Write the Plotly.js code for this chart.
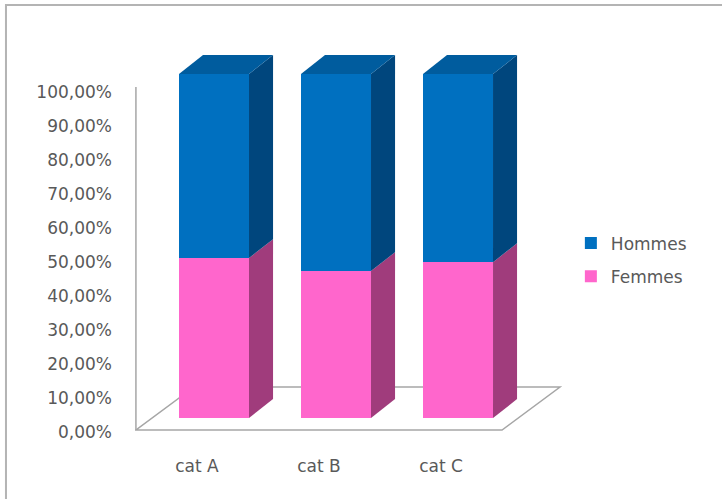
<!DOCTYPE html>
<html>
<head>
<meta charset="utf-8">
<script src="https://cdn.plot.ly/plotly-3.0.1.min.js"></script>
<style>html,body{margin:0;padding:0;background:#fff;}#chart{width:722px;height:499px;}</style>
</head>
<body>
<div id="chart"></div>
<script>
// Data
var categories = ['cat A', 'cat B', 'cat C'];
var femmes = [0.465, 0.427, 0.453];
var hommes = [0.535, 0.573, 0.547];
var yTicks = [0, 0.1, 0.2, 0.3, 0.4, 0.5, 0.6, 0.7, 0.8, 0.9, 1.0];

// Styles
var FONT = 'DejaVu Sans';
var TXT = '#595959';
var BLUE = '#0070C0', BLUE_SIDE = '#00467D', BLUE_TOP = '#005C9E';
var PINK = '#FF66CC', PINK_SIDE = '#A03C7C';
var BAR_W = 0.574, DX = 0.197, DY = 0.055;

var traces = [
  {type: 'bar', name: 'Femmes', x: categories, y: femmes, width: BAR_W,
   marker: {color: PINK, line: {width: 0}}, legendgroup: 'f', legendrank: 2, hoverinfo: 'skip'},
  {type: 'bar', name: 'Hommes', x: categories, y: hommes, width: BAR_W,
   marker: {color: BLUE, line: {width: 0}}, legendgroup: 'h', legendrank: 1, hoverinfo: 'skip'},
  // carrier so the percentage axis is drawn (no visible marks)
  {type: 'scatter', mode: 'none', x: categories, y: femmes, yaxis: 'y2', showlegend: false, hoverinfo: 'skip'}
];

var shapes = [];
// floor
var fy0 = -0.0349, fy1 = 0.0901, fxl = -0.639, fxr = 2.361, fdx = 0.475;
shapes.push({type: 'path', xref: 'x', yref: 'y', layer: 'below',
  path: 'M' + fxl + ',' + fy0 + ' L' + fxr + ',' + fy0 + ' L' + (fxr + fdx) + ',' + fy1 + ' L' + (fxl + fdx) + ',' + fy1 + ' Z',
  line: {color: '#A6A6A6', width: 1.5}, fillcolor: 'rgba(0,0,0,0)'});
// back wall vertical line
shapes.push({type: 'line', xref: 'x', yref: 'y', x0: -0.64, x1: -0.64, y0: fy0, y1: 0.962,
  line: {color: '#A6A6A6', width: 1.5}, layer: 'below'});

// side and top faces from data
categories.forEach(function (c, i) {
  var xr = i + BAR_W / 2, xl = i - BAR_W / 2;
  var f = femmes[i], t = femmes[i] + hommes[i];
  shapes.push({type: 'path', xref: 'x', yref: 'y', line: {width: 0}, fillcolor: PINK_SIDE,
    path: 'M' + xr + ',0 L' + (xr + DX) + ',' + DY + ' L' + (xr + DX) + ',' + (f + DY) + ' L' + xr + ',' + f + ' Z'});
  shapes.push({type: 'path', xref: 'x', yref: 'y', line: {width: 0}, fillcolor: BLUE_SIDE,
    path: 'M' + xr + ',' + f + ' L' + (xr + DX) + ',' + (f + DY) + ' L' + (xr + DX) + ',' + (t + DY) + ' L' + xr + ',' + t + ' Z'});
  shapes.push({type: 'path', xref: 'x', yref: 'y', line: {width: 0}, fillcolor: BLUE_TOP,
    path: 'M' + xl + ',' + t + ' L' + xr + ',' + t + ' L' + (xr + DX) + ',' + (t + DY) + ' L' + (xl + DX) + ',' + (t + DY) + ' Z'});
});

// outer frame (top and left)
shapes.push({type: 'path', xref: 'paper', yref: 'paper',
  path: 'M-0.2966,-0.13 L-0.2966,1.1125 L1.36,1.1125',
  line: {color: '#B4B4B4', width: 2}, fillcolor: 'rgba(0,0,0,0)'});

var layout = {
  width: 722, height: 499,
  margin: {l: 135, r: 152, t: 50, b: 49, pad: 0},
  paper_bgcolor: '#fff', plot_bgcolor: 'rgba(0,0,0,0)',
  separators: ', ',
  barmode: 'stack',
  showlegend: true,
  font: {family: FONT, size: 17, color: TXT},
  xaxis: {type: 'category', range: [-0.6475, 2.918], showgrid: false, zeroline: false, showline: false,
    ticks: '', ticklabelshift: -17, ticklabelstandoff: 4, tickfont: {family: FONT, size: 17, color: TXT}, fixedrange: true},
  yaxis: {range: [-0.093, 1.0698], showgrid: false, zeroline: false, showline: false, showticklabels: false, ticks: '', fixedrange: true},
  yaxis2: {overlaying: 'y', side: 'left', anchor: 'x', range: [-0.0529, 1.1235], tickvals: yTicks, tickformat: '.2%',
    showgrid: false, zeroline: false, showline: false, ticks: '', ticklabelstandoff: 22,
    tickfont: {family: FONT, size: 17, color: TXT}, fixedrange: true},
  legend: {x: 1.002, xanchor: 'left', y: 0.475, yanchor: 'middle', traceorder: 'grouped', tracegroupgap: 8,
    font: {family: FONT, size: 17, color: TXT}, bgcolor: 'rgba(0,0,0,0)'},
  shapes: shapes
};

Plotly.newPlot('chart', traces, layout, {displayModeBar: false, staticPlot: true});
</script>
</body>
</html>
